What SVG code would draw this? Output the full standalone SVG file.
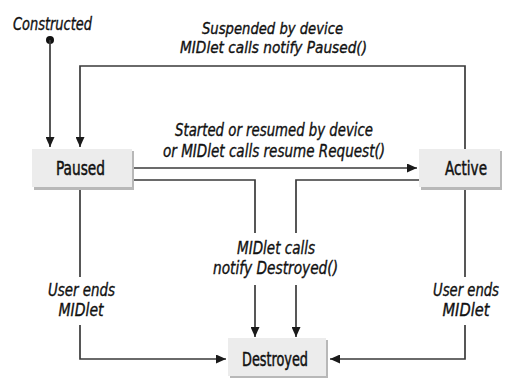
<svg xmlns="http://www.w3.org/2000/svg" width="509" height="378" viewBox="0 0 509 378">
<style>
  .lbl { font-family: "DejaVu Sans Condensed", "Liberation Sans", sans-serif; font-style: italic; font-size: 17px; fill: #111; stroke: #111; stroke-width: 0.35; text-anchor: middle; }
  .sm { font-size: 16px; }
  .ntxt { font-family: "DejaVu Sans Condensed", "Liberation Sans", sans-serif; font-size: 20px; fill: #111; stroke: #111; stroke-width: 0.5; text-anchor: middle; }
  .box { fill: #ececec; }
  .shadow { fill: #b8b8b8; }
  .edge { fill: none; stroke: #3a3a3a; stroke-width: 1.7; }
</style>
<defs>
  <marker id="arr" viewBox="0 0 10 10" refX="10" refY="5" markerWidth="10" markerHeight="9" markerUnits="userSpaceOnUse" orient="auto" preserveAspectRatio="none">
    <path d="M0,0 L10,5 L0,10 Z" fill="#1a1a1a"/>
  </marker>
</defs>
<rect width="509" height="378" fill="#ffffff"/>

<g id="connectors">
  <circle cx="50" cy="40" r="4" fill="#111"/>
  <path class="edge" d="M50,40 L50,147" marker-end="url(#arr)"/>
  <path class="edge" d="M465,149 L465,66 L80,66 L80,147" marker-end="url(#arr)"/>
  <path class="edge" d="M133,168 L417,168" marker-end="url(#arr)"/>
  <path class="edge" d="M133,180 L255,180 L255,233"/>
  <path class="edge" d="M255,285 L255,337" marker-end="url(#arr)"/>
  <path class="edge" d="M419,180 L296,180 L296,233"/>
  <path class="edge" d="M296,285 L296,337" marker-end="url(#arr)"/>
  <path class="edge" d="M80,189 L80,277"/>
  <path class="edge" d="M80,325 L80,359 L226,359" marker-end="url(#arr)"/>
  <path class="edge" d="M465,189 L465,277"/>
  <path class="edge" d="M465,325 L465,359 L330,359" marker-end="url(#arr)"/>
</g>

<g id="labels">
  <text class="lbl" x="52.5" y="30" textLength="79" lengthAdjust="spacingAndGlyphs">Constructed</text>
  <text class="lbl sm" x="272.5" y="34" textLength="141" lengthAdjust="spacingAndGlyphs">Suspended by device</text>
  <text class="lbl sm" x="273.5" y="53" textLength="187" lengthAdjust="spacingAndGlyphs">MIDlet calls notify Paused()</text>
  <text class="lbl" x="274" y="136" textLength="198" lengthAdjust="spacingAndGlyphs">Started or resumed by device</text>
  <text class="lbl" x="274" y="157" textLength="222" lengthAdjust="spacingAndGlyphs">or MIDlet calls resume Request()</text>
  <text class="lbl" x="276" y="254" textLength="78" lengthAdjust="spacingAndGlyphs">MIDlet calls</text>
  <text class="lbl" x="275.5" y="274" textLength="125" lengthAdjust="spacingAndGlyphs">notify Destroyed()</text>
  <text class="lbl" x="81.5" y="296" textLength="67" lengthAdjust="spacingAndGlyphs">User ends</text>
  <text class="lbl" x="81" y="316" textLength="45" lengthAdjust="spacingAndGlyphs">MIDlet</text>
  <text class="lbl" x="466" y="296" textLength="66" lengthAdjust="spacingAndGlyphs">User ends</text>
  <text class="lbl" x="466" y="316" textLength="47" lengthAdjust="spacingAndGlyphs">MIDlet</text>
</g>

<g id="node-paused">
  <rect class="shadow" x="34" y="151" width="100" height="39"/>
  <rect class="box" x="32" y="149" width="100" height="38"/>
  <text class="ntxt" x="80.5" y="175" textLength="49" lengthAdjust="spacingAndGlyphs">Paused</text>
</g>
<g id="node-active">
  <rect class="shadow" x="421" y="151" width="81" height="39"/>
  <rect class="box" x="419" y="149" width="81" height="38"/>
  <text class="ntxt" x="466" y="175" textLength="42" lengthAdjust="spacingAndGlyphs">Active</text>
</g>
<g id="node-destroyed">
  <rect class="shadow" x="230" y="340" width="98" height="38"/>
  <rect class="box" x="228" y="338" width="98" height="38"/>
  <text class="ntxt" x="275" y="366" textLength="66" lengthAdjust="spacingAndGlyphs">Destroyed</text>
</g>
</svg>
